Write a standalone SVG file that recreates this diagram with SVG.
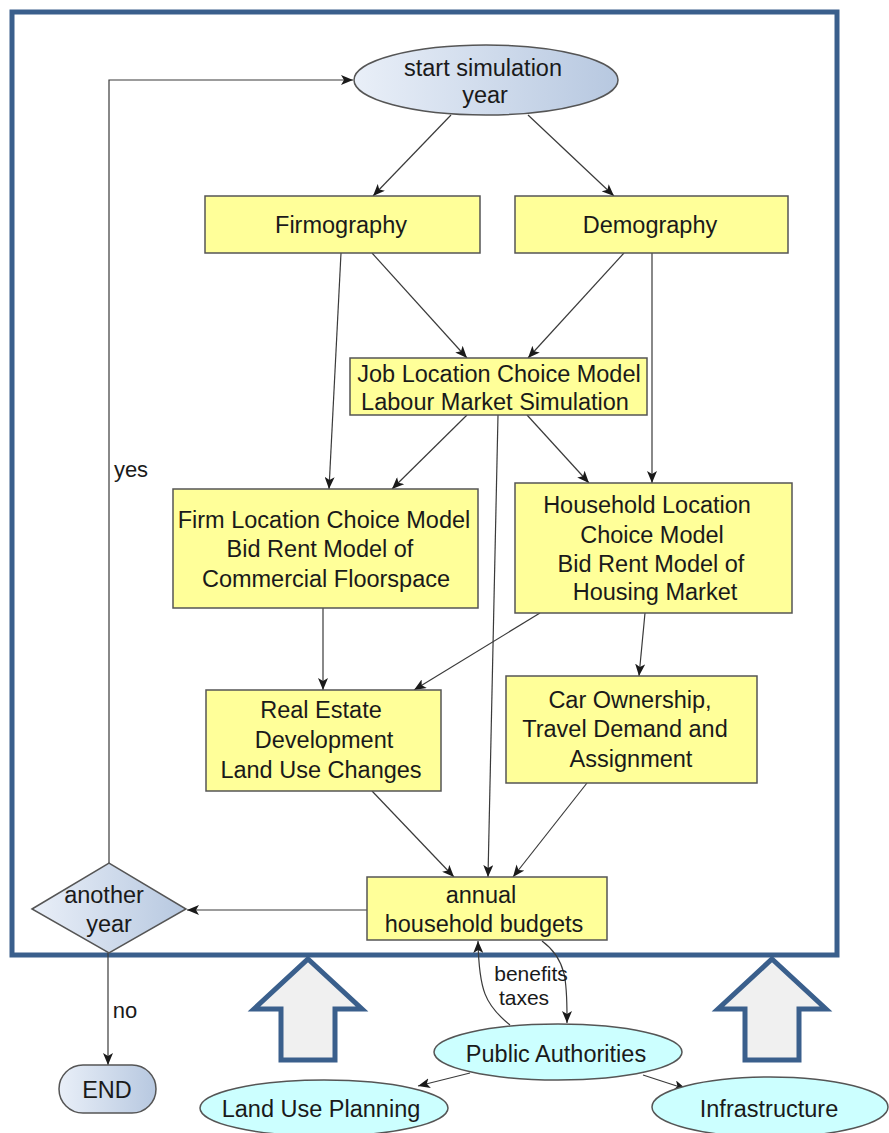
<svg xmlns="http://www.w3.org/2000/svg" width="889" height="1133" viewBox="0 0 889 1133">
<style>
text{font-family:"Liberation Sans",Arial,sans-serif;font-size:23.5px;fill:#1a1a1a;text-anchor:middle}
.box{fill:#ffff99;stroke:#555;stroke-width:1.5}
.cy{fill:#ccffff;stroke:#555;stroke-width:1.5}
.c{stroke:#3a3a3a;stroke-width:1.2;fill:none;marker-end:url(#ah)}
.big{fill:#f0f0f0;stroke:#3a5f8c;stroke-width:5}
.lbl{font-size:22px}
.sm{font-size:21px}
</style>
<defs>
<marker id="ah" viewBox="0 0 12 10" refX="12" refY="5" markerWidth="12" markerHeight="10" markerUnits="userSpaceOnUse" orient="auto">
<path d="M0,0 L12,5 L0,10 L3,5 Z" fill="#1a1a1a"/>
</marker>
<linearGradient id="bg" x1="0" y1="0" x2="1" y2="0">
<stop offset="0" stop-color="#e9eff8"/>
<stop offset="1" stop-color="#b7c8e0"/>
</linearGradient>
</defs>
<rect width="889" height="1133" fill="#fff"/>
<rect x="12" y="12" width="825" height="943" fill="none" stroke="#3a5f8c" stroke-width="5"/>

<g id="connectors">
<path class="c" d="M109,863 V80 H353"/>
<path class="c" d="M451,115 L373,196"/>
<path class="c" d="M528,115 L614,196"/>
<path class="c" d="M372,253 L467,358"/>
<path class="c" d="M624,253 L528,358"/>
<path class="c" d="M341,253 L329,489"/>
<path class="c" d="M652,253 L652,483" stroke="#888" stroke-width="0.9"/>
<path class="c" d="M467,415 L392,489"/>
<path class="c" d="M527,415 L589,483"/>
<path class="c" d="M498,415 L488,877"/>
<path class="c" d="M323,608 L323,690"/>
<path class="c" d="M540,613 L414,690"/>
<path class="c" d="M645,613 L639,676"/>
<path class="c" d="M372,791 L454,877"/>
<path class="c" d="M587,783 L513,877"/>
<path class="c" d="M367,910 L187,910"/>
<path class="c" d="M108,953 L108,1065"/>
<path class="c" d="M510,1025 C485,1005 479,990 478,941"/>
<path class="c" d="M542,941 C568,960 567,985 567,1023"/>
<path class="c" d="M470,1073 L418,1086"/>
<path class="c" d="M643,1075 L686,1089"/>
<text class="sm" x="531" y="981">benefits</text>
<text class="sm" x="524" y="1005">taxes</text>
<text class="lbl" x="131" y="477">yes</text>
<text class="lbl" x="125" y="1018">no</text>
</g>

<g id="start">
<ellipse cx="486" cy="80" rx="132" ry="35" fill="url(#bg)" stroke="#555" stroke-width="1.5"/>
<text x="483" y="76">start simulation</text>
<text x="485" y="103">year</text>
</g>
<g id="firmography">
<rect class="box" x="205" y="196" width="275" height="57"/>
<text x="341" y="233">Firmography</text>
</g>
<g id="demography">
<rect class="box" x="515" y="196" width="273" height="57"/>
<text x="650" y="233">Demography</text>
</g>
<g id="job">
<rect class="box" x="350" y="358" width="297" height="57"/>
<text x="499" y="382">Job Location Choice Model</text>
<text x="495" y="410">Labour Market Simulation</text>
</g>
<g id="firmloc">
<rect class="box" x="173" y="489" width="305" height="119"/>
<text x="324" y="528">Firm Location Choice Model</text>
<text x="320" y="557">Bid Rent Model of</text>
<text x="326" y="587">Commercial Floorspace</text>
</g>
<g id="household">
<rect class="box" x="515" y="483" width="277" height="130"/>
<text x="647" y="513">Household Location</text>
<text x="652" y="543">Choice Model</text>
<text x="651" y="572">Bid Rent Model of</text>
<text x="655" y="600">Housing Market</text>
</g>
<g id="realestate">
<rect class="box" x="206" y="690" width="235" height="101"/>
<text x="321" y="718">Real Estate</text>
<text x="324" y="748">Development</text>
<text x="321" y="778">Land Use Changes</text>
</g>
<g id="car">
<rect class="box" x="506" y="676" width="251" height="107"/>
<text x="630" y="708">Car Ownership,</text>
<text x="625" y="737">Travel Demand and</text>
<text x="631" y="767">Assignment</text>
</g>
<g id="budgets">
<rect class="box" x="367" y="877" width="240" height="63"/>
<text x="481" y="903">annual</text>
<text x="484" y="932">household budgets</text>
</g>
<g id="another">
<polygon points="32,909 109,863 186,909 109,953" fill="url(#bg)" stroke="#555" stroke-width="1.5"/>
<text x="104" y="903">another</text>
<text x="109" y="932">year</text>
</g>
<g id="end">
<rect x="59" y="1065" width="97" height="48" rx="24" fill="url(#bg)" stroke="#555" stroke-width="1.5"/>
<text x="107" y="1098">END</text>
</g>
<g id="public">
<ellipse class="cy" cx="558" cy="1052" rx="124" ry="28"/>
<text x="556" y="1062">Public Authorities</text>
</g>
<g id="landuse">
<ellipse class="cy" cx="324" cy="1108" rx="124" ry="28"/>
<text x="321" y="1117">Land Use Planning</text>
</g>
<g id="infra">
<ellipse class="cy" cx="770" cy="1107" rx="118" ry="30"/>
<text x="769" y="1117">Infrastructure</text>
</g>
<g id="arrows">
<polygon class="big" points="308,959 362,1009 335,1009 335,1060 281,1060 281,1009 254,1009"/>
<polygon class="big" points="772,959 826,1009 799,1009 799,1060 745,1060 745,1009 718,1009"/>
</g>
</svg>
